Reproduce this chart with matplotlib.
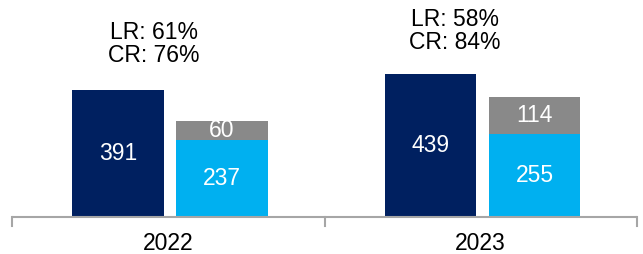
import matplotlib
matplotlib.use("Agg")
import matplotlib.pyplot as plt

categories = ["2022", "2023"]
total_vals = [391, 439]
base_vals = [237, 255]
top_vals = [60, 114]
lr_labels = ["LR: 61%", "LR: 58%"]
cr_labels = ["CR: 76%", "CR: 84%"]

navy = "#002060"
light = "#00B0F0"
grey = "#898989"
axis_col = "#A6A6A6"

plt.rcParams['font.family'] = ['Liberation Sans', 'DejaVu Sans']

fig = plt.figure(figsize=(6.43, 2.54), dpi=100)
ax = fig.add_axes([12/643, 1 - 217/254, 625/643, 217/254])
ax.set_xlim(0, 2)
ax.set_ylim(0, 668)
for s in ax.spines.values():
    s.set_visible(False)
ax.set_xticks([])
ax.set_yticks([])

w = 0.294
fs = 16.5
for i, cat in enumerate(categories):
    c = i + 0.5
    x1 = c - 0.161
    x2 = c + 0.172
    ax.bar(x1, total_vals[i], width=w, color=navy, linewidth=0)
    ax.bar(x2, base_vals[i], width=w, color=light, linewidth=0)
    ax.bar(x2, top_vals[i], width=w, bottom=base_vals[i], color=grey, linewidth=0)
    ax.text(x1, total_vals[i] / 2, str(total_vals[i]), color="white", ha="center", va="center", fontsize=fs)
    ax.text(x2, base_vals[i] / 2, str(base_vals[i]), color="white", ha="center", va="center", fontsize=fs)
    ax.text(x2, base_vals[i] + top_vals[i] / 2, str(top_vals[i]), color="white", ha="center", va="center", fontsize=fs)
    ax.text(c, -82, cat, ha="center", va="center", fontsize=fs, color="black", clip_on=False)

ann_x = [0.454, 1.418]
ann_y = [532, 572]
for i in range(2):
    ax.text(ann_x[i], ann_y[i], lr_labels[i] + "\n" + cr_labels[i], ha="center", va="center",
            fontsize=fs, color="black", linespacing=1.0)

# category axis with group separators
ax.plot([0, 2], [0, 0], color=axis_col, lw=1.5, clip_on=False, solid_capstyle="butt")
for xt in [0, 1, 2]:
    ax.plot([xt, xt], [0, -28], color=axis_col, lw=1.5, clip_on=False)

fig.savefig("out.png", dpi=100)
